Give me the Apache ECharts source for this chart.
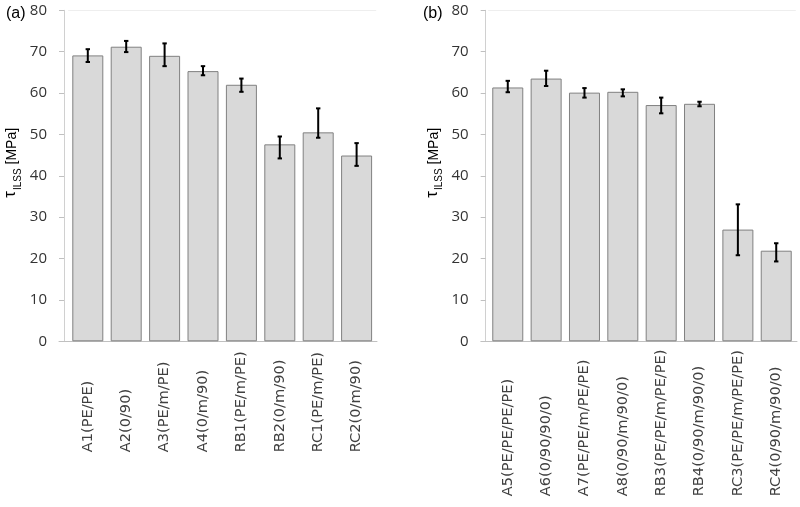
<!DOCTYPE html>
<html>
<head>
<meta charset="utf-8">
<script src="https://cdn.jsdelivr.net/npm/echarts@6/dist/echarts.min.js"></script>
<style>html,body{margin:0;padding:0;background:#fff}#c{width:800px;height:507px}</style>
</head>
<body>
<div id="c"></div>
<script>
const catsA = ['A1(PE/PE)','A2(0/90)','A3(PE/m/PE)','A4(0/m/90)','RB1(PE/m/PE)','RB2(0/m/90)','RC1(PE/m/PE)','RC2(0/m/90)'];
const valsA = [69.1, 71.2, 69.0, 65.3, 62.0, 47.6, 50.5, 44.9];
const lowA  = [67.5, 69.9, 66.5, 64.3, 60.3, 44.2, 49.2, 42.4];
const highA = [70.6, 72.6, 72.0, 66.5, 63.5, 49.5, 56.3, 47.9];

const catsB = ['A5(PE/PE/PE/PE)','A6(0/90/90/0)','A7(PE/PE/m/PE/PE)','A8(0/90/m/90/0)','RB3(PE/PE/m/PE/PE)','RB4(0/90/m/90/0)','RC3(PE/PE/m/PE/PE)','RC4(0/90/m/90/0)'];
const valsB = [61.35, 63.5, 60.1, 60.3, 57.1, 57.4, 27.0, 21.9];
const lowB  = [60.2, 61.7, 58.9, 59.2, 55.1, 56.8, 20.8, 19.3];
const highB = [62.95, 65.4, 61.2, 60.9, 58.9, 57.9, 33.1, 23.7];

const yTicks = {min: 0, max: 80, interval: 10};
const panelLabels = ['(a)', '(b)'];

const FONT = 'DejaVu Sans';
const TXT = '#404040';

function errRender(params, api) {
  const i = api.value(0);
  const p1 = api.coord([i, api.value(1)]);
  const p2 = api.coord([i, api.value(2)]);
  const st = {stroke: '#000', lineWidth: 2};
  const c = 2.2;
  return {type: 'group', children: [
    {type: 'line', shape: {x1: p1[0], y1: p1[1], x2: p2[0], y2: p2[1]}, style: st},
    {type: 'line', shape: {x1: p1[0]-c, y1: p1[1], x2: p1[0]+c, y2: p1[1]}, style: st},
    {type: 'line', shape: {x1: p2[0]-c, y1: p2[1], x2: p2[0]+c, y2: p2[1]}, style: st}
  ]};
}

function yAxisFor(gridIndex, offset) {
  return {
    type: 'value', gridIndex, min: yTicks.min, max: yTicks.max, interval: yTicks.interval,
    offset,
    axisLine: {show: true, lineStyle: {color: '#d0d0d0', width: 1}},
    axisTick: {show: true, length: 5, lineStyle: {color: '#c0c0c0'}},
    axisLabel: {margin: 17, color: '#333', fontFamily: 'Open Sans', fontSize: 15},
    splitLine: {show: false},
    name: '{t|τ}{s|ILSS}{u| [MPa]}',
    nameLocation: 'middle', nameRotate: 90, nameGap: 41,
    nameTextStyle: {
      color: '#000',
      padding: [0, 0, 0, 26],
      rich: {
        t: {fontSize: 17, verticalAlign: 'top', fontFamily: 'Liberation Sans', color: '#000'},
        s: {fontSize: 10, lineHeight: 21, verticalAlign: 'bottom', padding: [0, 0, 0, 1], fontFamily: 'Liberation Sans Narrow, Liberation Sans', color: '#000'},
        u: {fontSize: 14, height: 20, verticalAlign: 'top', fontFamily: 'Liberation Sans', color: '#000'}
      }
    }
  };
}

function xLabelAxis(gridIndex, cats, w) {
  return {
    type: 'category', gridIndex, data: cats, position: 'bottom',
    axisLine: {show: false}, axisTick: {show: false},
    axisLabel: {
      interval: 0, rotate: 90, margin: 8,
      formatter: v => '{a|' + v + '}',
      rich: {a: {width: w, align: 'left', color: TXT, fontFamily: FONT, fontSize: 14.6}}
    }
  };
}
function topLineAxis(gridIndex, cats) {
  return {type: 'category', gridIndex, data: cats, position: 'top',
    axisLine: {show: true, lineStyle: {color: '#eeeeee'}}, axisTick: {show: false}, axisLabel: {show: false}};
}
function frameAxis(gridIndex) {
  return {type: 'category', gridIndex, data: [''], position: 'bottom',
    axisLine: {show: true, lineStyle: {color: '#c0c0c0'}}, axisTick: {show: false}, axisLabel: {show: false}};
}

const option = {
  animation: false,
  backgroundColor: '#fff',
  title: [
    {text: panelLabels[0], left: 1, top: 1, textStyle: {fontFamily: 'Liberation Sans', fontSize: 16, fontWeight: 'normal', color: '#000'}},
    {text: panelLabels[1], left: 418, top: 1, textStyle: {fontFamily: 'Liberation Sans', fontSize: 16, fontWeight: 'normal', color: '#000'}}
  ],
  grid: [
    {left: 68.6, top: 10.3, width: 307.2, height: 331, outerBoundsMode: 'none', containLabel: false},
    {left: 59, top: 10.3, width: 318, height: 331, outerBoundsMode: 'none', containLabel: false},
    {left: 488.6, top: 10.3, width: 306.8, height: 331, outerBoundsMode: 'none', containLabel: false},
    {left: 481, top: 10.3, width: 316, height: 331, outerBoundsMode: 'none', containLabel: false}
  ],
  xAxis: [
    xLabelAxis(0, catsA, 103),
    topLineAxis(0, catsA),
    frameAxis(1),
    xLabelAxis(2, catsB, 147),
    topLineAxis(2, catsB),
    frameAxis(3)
  ],
  yAxis: [
    yAxisFor(0, 4.6),
    {type: 'value', gridIndex: 1, min: 0, max: 80, show: false},
    yAxisFor(2, 2.9),
    {type: 'value', gridIndex: 3, min: 0, max: 80, show: false}
  ],
  series: [
    {type: 'bar', xAxisIndex: 0, yAxisIndex: 0, data: valsA, barWidth: 31,
     itemStyle: {color: '#d9d9d9', borderColor: '#808080', borderWidth: 1}, z: 2},
    {type: 'custom', xAxisIndex: 0, yAxisIndex: 0, renderItem: errRender,
     encode: {x: 0, y: [1, 2]}, data: catsA.map((c, i) => [i, lowA[i], highA[i]]), z: 3},
    {type: 'bar', xAxisIndex: 3, yAxisIndex: 2, data: valsB, barWidth: 31,
     itemStyle: {color: '#d9d9d9', borderColor: '#808080', borderWidth: 1}, z: 2},
    {type: 'custom', xAxisIndex: 3, yAxisIndex: 2, renderItem: errRender,
     encode: {x: 0, y: [1, 2]}, data: catsB.map((c, i) => [i, lowB[i], highB[i]]), z: 3}
  ]
};
const chart = echarts.init(document.getElementById('c'), null, {renderer: 'canvas'});
chart.setOption(option);
</script>
</body>
</html>
